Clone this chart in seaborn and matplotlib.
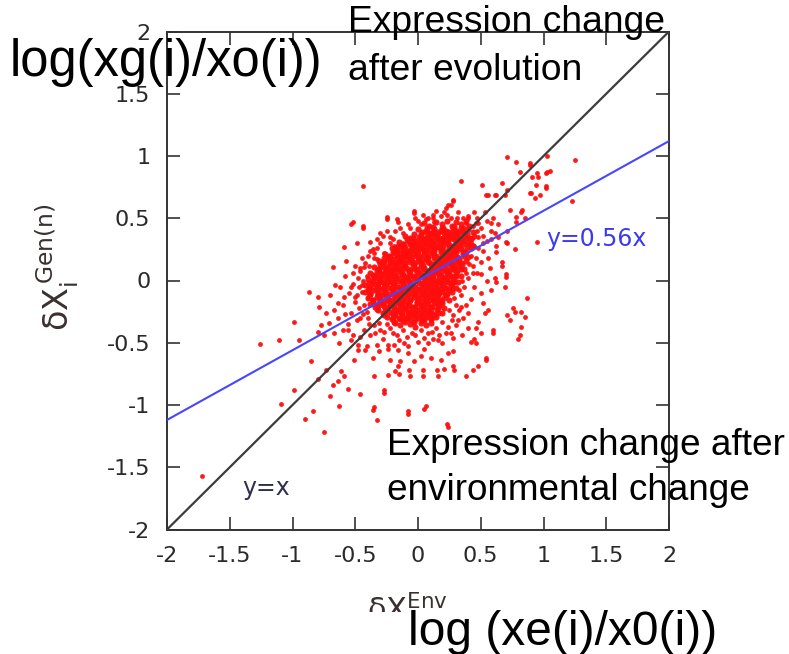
import matplotlib
matplotlib.use("Agg")
import matplotlib.pyplot as plt
from matplotlib.patches import Rectangle
import numpy as np
import pandas as pd
import seaborn as sns

# ---------------------------------------------------------------- data
# dense central cloud of genes (deltaX_env, deltaX_gen)
core_points = [
    (0.05, 0.46), (0.09, 0.44), (0.14, 0.47), (0.19, 0.45), (0.23, 0.48), (0.27, 0.44), (0.30, 0.47), (0.34, 0.45), (0.38, 0.48), (0.41, 0.44),
    (0.00, 0.41), (0.03, 0.39), (0.07, 0.42), (0.10, 0.38), (0.13, 0.41), (0.16, 0.39), (0.19, 0.42), (0.22, 0.40), (0.25, 0.38), (0.28, 0.41),
    (0.31, 0.39), (0.34, 0.42), (0.37, 0.38), (0.40, 0.41), (0.44, 0.39),
    (-0.10, 0.36), (-0.06, 0.34), (-0.03, 0.37), (0.01, 0.35), (0.04, 0.33), (0.07, 0.36), (0.10, 0.34), (0.13, 0.37), (0.16, 0.35), (0.19, 0.33),
    (0.22, 0.36), (0.25, 0.34), (0.28, 0.37), (0.31, 0.35), (0.34, 0.33), (0.37, 0.36), (0.41, 0.34), (0.45, 0.36),
    (-0.15, 0.31), (-0.12, 0.29), (-0.08, 0.32), (-0.05, 0.30), (-0.02, 0.28), (0.01, 0.31), (0.04, 0.29), (0.07, 0.32), (0.10, 0.30), (0.12, 0.28),
    (0.15, 0.31), (0.18, 0.29), (0.21, 0.32), (0.24, 0.30), (0.27, 0.28), (0.30, 0.31), (0.33, 0.29), (0.36, 0.32), (0.40, 0.30), (0.44, 0.28),
    (-0.21, 0.26), (-0.17, 0.24), (-0.14, 0.27), (-0.11, 0.25), (-0.08, 0.23), (-0.05, 0.26), (-0.02, 0.24), (0.01, 0.27), (0.04, 0.25), (0.07, 0.23),
    (0.10, 0.26), (0.13, 0.24), (0.16, 0.27), (0.19, 0.25), (0.22, 0.23), (0.25, 0.26), (0.28, 0.24), (0.31, 0.27), (0.34, 0.25), (0.38, 0.23), (0.42, 0.26),
    (-0.26, 0.21), (-0.22, 0.19), (-0.19, 0.22), (-0.16, 0.20), (-0.13, 0.18), (-0.10, 0.21), (-0.07, 0.19), (-0.04, 0.22), (-0.01, 0.20), (0.02, 0.18),
    (0.05, 0.21), (0.08, 0.19), (0.11, 0.22), (0.14, 0.20), (0.17, 0.18), (0.20, 0.21), (0.23, 0.19), (0.26, 0.22), (0.29, 0.20), (0.32, 0.18), (0.36, 0.21), (0.40, 0.19),
    (-0.31, 0.16), (-0.27, 0.14), (-0.24, 0.17), (-0.21, 0.15), (-0.18, 0.13), (-0.15, 0.16), (-0.12, 0.14), (-0.09, 0.17), (-0.06, 0.15), (-0.03, 0.13),
    (0.00, 0.16), (0.03, 0.14), (0.06, 0.17), (0.09, 0.15), (0.12, 0.13), (0.15, 0.16), (0.18, 0.14), (0.21, 0.17), (0.24, 0.15), (0.27, 0.13), (0.30, 0.16), (0.34, 0.14), (0.38, 0.16),
    (-0.35, 0.11), (-0.31, 0.09), (-0.28, 0.12), (-0.25, 0.10), (-0.22, 0.08), (-0.19, 0.11), (-0.16, 0.09), (-0.13, 0.12), (-0.10, 0.10), (-0.07, 0.08),
    (-0.04, 0.11), (-0.01, 0.09), (0.02, 0.12), (0.05, 0.10), (0.08, 0.08), (0.11, 0.11), (0.14, 0.09), (0.17, 0.12), (0.20, 0.10), (0.23, 0.08),
    (0.26, 0.11), (0.29, 0.09), (0.33, 0.11), (0.37, 0.09),
    (-0.38, 0.06), (-0.34, 0.04), (-0.31, 0.07), (-0.28, 0.05), (-0.25, 0.03), (-0.22, 0.06), (-0.19, 0.04), (-0.16, 0.07), (-0.13, 0.05), (-0.10, 0.03),
    (-0.07, 0.06), (-0.04, 0.04), (-0.01, 0.07), (0.02, 0.05), (0.05, 0.03), (0.08, 0.06), (0.11, 0.04), (0.14, 0.07), (0.17, 0.05), (0.20, 0.03),
    (0.23, 0.06), (0.26, 0.04), (0.30, 0.06), (0.34, 0.04),
    (-0.40, 0.01), (-0.36, -0.01), (-0.33, 0.02), (-0.30, 0.00), (-0.27, -0.02), (-0.24, 0.01), (-0.21, -0.01), (-0.18, 0.02), (-0.15, 0.00), (-0.12, -0.02),
    (-0.09, 0.01), (-0.06, -0.01), (-0.03, 0.02), (0.00, 0.00), (0.03, -0.02), (0.06, 0.01), (0.09, -0.01), (0.12, 0.02), (0.15, 0.00), (0.18, -0.02),
    (0.21, 0.01), (0.24, -0.01), (0.28, 0.01), (0.32, -0.01),
    (-0.42, -0.04), (-0.38, -0.06), (-0.35, -0.03), (-0.32, -0.05), (-0.29, -0.07), (-0.26, -0.04), (-0.23, -0.06), (-0.20, -0.03), (-0.17, -0.05), (-0.14, -0.07),
    (-0.11, -0.04), (-0.08, -0.06), (-0.05, -0.03), (-0.02, -0.05), (0.01, -0.07), (0.04, -0.04), (0.07, -0.06), (0.10, -0.03), (0.13, -0.05), (0.16, -0.07),
    (0.19, -0.04), (0.22, -0.06), (0.26, -0.04), (0.30, -0.06),
    (-0.42, -0.09), (-0.38, -0.11), (-0.35, -0.08), (-0.32, -0.10), (-0.29, -0.12), (-0.26, -0.09), (-0.23, -0.11), (-0.20, -0.08), (-0.17, -0.10), (-0.14, -0.12),
    (-0.11, -0.09), (-0.08, -0.11), (-0.05, -0.08), (-0.02, -0.10), (0.01, -0.12), (0.04, -0.09), (0.07, -0.11), (0.10, -0.08), (0.13, -0.10), (0.16, -0.12),
    (0.19, -0.09), (0.23, -0.11), (0.27, -0.09),
    (-0.40, -0.14), (-0.36, -0.16), (-0.33, -0.13), (-0.30, -0.15), (-0.27, -0.17), (-0.24, -0.14), (-0.21, -0.16), (-0.18, -0.13), (-0.15, -0.15), (-0.12, -0.17),
    (-0.09, -0.14), (-0.06, -0.16), (-0.03, -0.13), (0.00, -0.15), (0.03, -0.17), (0.06, -0.14), (0.09, -0.16), (0.12, -0.13), (0.15, -0.15), (0.18, -0.17),
    (0.21, -0.14), (0.25, -0.16),
    (-0.38, -0.19), (-0.34, -0.21), (-0.31, -0.18), (-0.28, -0.20), (-0.25, -0.22), (-0.22, -0.19), (-0.19, -0.21), (-0.16, -0.18), (-0.13, -0.20), (-0.10, -0.22),
    (-0.07, -0.19), (-0.04, -0.21), (-0.01, -0.18), (0.02, -0.20), (0.05, -0.22), (0.08, -0.19), (0.11, -0.21), (0.14, -0.18), (0.17, -0.20), (0.21, -0.22),
    (-0.32, -0.24), (-0.28, -0.26), (-0.25, -0.23), (-0.22, -0.25), (-0.19, -0.27), (-0.16, -0.24), (-0.13, -0.26), (-0.10, -0.23), (-0.07, -0.25), (-0.04, -0.27),
    (-0.01, -0.24), (0.02, -0.26), (0.05, -0.23), (0.08, -0.25), (0.11, -0.27), (0.15, -0.24), (0.19, -0.26),
    (-0.25, -0.29), (-0.21, -0.31), (-0.18, -0.28), (-0.15, -0.30), (-0.12, -0.32), (-0.09, -0.29), (-0.06, -0.31), (-0.03, -0.28), (0.00, -0.30), (0.03, -0.32),
    (0.06, -0.29), (0.10, -0.31), (0.14, -0.29),
    (-0.18, -0.34), (-0.14, -0.36), (-0.10, -0.33), (-0.06, -0.35), (-0.02, -0.37), (0.02, -0.34), (0.06, -0.36), (0.10, -0.34),
]

# second layer filling the gaps of the central cloud
core_fill_points = [
    (0.12, 0.43), (0.20, 0.42), (0.29, 0.43), (0.36, 0.42),
    (0.02, 0.37), (0.09, 0.38), (0.15, 0.375), (0.21, 0.38), (0.27, 0.37), (0.33, 0.38), (0.39, 0.37),
    (-0.09, 0.33), (-0.02, 0.32), (0.05, 0.33), (0.11, 0.32), (0.17, 0.33), (0.23, 0.32), (0.29, 0.33), (0.35, 0.32), (0.42, 0.33),
    (-0.16, 0.28), (-0.10, 0.27), (-0.04, 0.28), (0.02, 0.27), (0.08, 0.28), (0.14, 0.27), (0.20, 0.28), (0.26, 0.27), (0.32, 0.28), (0.39, 0.27),
    (-0.20, 0.23), (-0.14, 0.22), (-0.07, 0.23), (-0.01, 0.22), (0.05, 0.23), (0.12, 0.22), (0.18, 0.23), (0.24, 0.22), (0.30, 0.23), (0.37, 0.22),
    (-0.27, 0.18), (-0.20, 0.17), (-0.13, 0.18), (-0.06, 0.17), (0.00, 0.18), (0.07, 0.17), (0.13, 0.18), (0.19, 0.17), (0.26, 0.18), (0.33, 0.17),
    (-0.30, 0.13), (-0.23, 0.12), (-0.17, 0.13), (-0.10, 0.12), (-0.03, 0.13), (0.04, 0.12), (0.10, 0.13), (0.16, 0.12), (0.22, 0.13), (0.29, 0.12), (0.35, 0.13),
    (-0.33, 0.08), (-0.26, 0.07), (-0.20, 0.08), (-0.13, 0.07), (-0.06, 0.08), (0.00, 0.07), (0.07, 0.08), (0.13, 0.07), (0.19, 0.08), (0.25, 0.07), (0.31, 0.08),
    (-0.35, 0.03), (-0.29, 0.02), (-0.22, 0.03), (-0.15, 0.02), (-0.08, 0.03), (-0.02, 0.02), (0.04, 0.03), (0.10, 0.02), (0.17, 0.03), (0.23, 0.02), (0.29, 0.03),
    (-0.39, -0.02), (-0.32, -0.03), (-0.25, -0.02), (-0.19, -0.03), (-0.12, -0.02), (-0.05, -0.03), (0.01, -0.02), (0.08, -0.03), (0.14, -0.02), (0.20, -0.03), (0.27, -0.02),
    (-0.40, -0.08), (-0.33, -0.07), (-0.27, -0.08), (-0.20, -0.07), (-0.13, -0.08), (-0.06, -0.07), (0.00, -0.08), (0.06, -0.07), (0.12, -0.08), (0.19, -0.07), (0.25, -0.08),
    (-0.39, -0.13), (-0.32, -0.12), (-0.25, -0.13), (-0.18, -0.12), (-0.11, -0.13), (-0.04, -0.12), (0.03, -0.13), (0.09, -0.12), (0.15, -0.13), (0.22, -0.12),
    (-0.36, -0.18), (-0.29, -0.17), (-0.22, -0.18), (-0.15, -0.17), (-0.08, -0.18), (-0.01, -0.17), (0.06, -0.18), (0.13, -0.17), (0.19, -0.18),
    (-0.33, -0.23), (-0.26, -0.22), (-0.19, -0.23), (-0.12, -0.22), (-0.05, -0.23), (0.02, -0.22), (0.09, -0.23), (0.16, -0.22),
    (-0.27, -0.28), (-0.20, -0.27), (-0.13, -0.28), (-0.06, -0.27), (0.01, -0.28), (0.08, -0.27), (0.13, -0.28),
    (-0.19, -0.33), (-0.11, -0.32), (-0.03, -0.33), (0.05, -0.32),
]

# third layer, densest middle of the cloud
core_center_points = [
    (0.06, 0.395), (0.12, 0.39), (0.18, 0.395), (0.24, 0.39), (0.30, 0.395), (0.36, 0.39),
    (-0.04, 0.345), (0.02, 0.34), (0.08, 0.345), (0.14, 0.34), (0.20, 0.345), (0.26, 0.34), (0.32, 0.345), (0.38, 0.34),
    (-0.12, 0.295), (-0.06, 0.29), (0.00, 0.295), (0.06, 0.29), (0.12, 0.295), (0.18, 0.29), (0.24, 0.295), (0.30, 0.29), (0.36, 0.295), (0.42, 0.29),
    (-0.18, 0.245), (-0.12, 0.24), (-0.06, 0.245), (0.00, 0.24), (0.06, 0.245), (0.12, 0.24), (0.18, 0.245), (0.24, 0.24), (0.30, 0.245), (0.36, 0.24),
    (-0.23, 0.195), (-0.17, 0.19), (-0.11, 0.195), (-0.05, 0.19), (0.01, 0.195), (0.07, 0.19), (0.13, 0.195), (0.19, 0.19), (0.25, 0.195), (0.31, 0.19), (0.37, 0.195),
    (-0.28, 0.145), (-0.22, 0.14), (-0.16, 0.145), (-0.10, 0.14), (-0.04, 0.145), (0.02, 0.14), (0.08, 0.145), (0.14, 0.14), (0.20, 0.145), (0.26, 0.14), (0.32, 0.145),
    (-0.32, 0.095), (-0.26, 0.09), (-0.20, 0.095), (-0.14, 0.09), (-0.08, 0.095), (-0.02, 0.09), (0.04, 0.095), (0.10, 0.09), (0.16, 0.095), (0.22, 0.09), (0.28, 0.095), (0.34, 0.09),
    (-0.36, 0.045), (-0.30, 0.04), (-0.24, 0.045), (-0.18, 0.04), (-0.12, 0.045), (-0.06, 0.04), (0.00, 0.045), (0.06, 0.04), (0.12, 0.045), (0.18, 0.04), (0.24, 0.045), (0.30, 0.04),
    (-0.37, -0.005), (-0.31, -0.01), (-0.25, -0.005), (-0.19, -0.01), (-0.13, -0.005), (-0.07, -0.01), (-0.01, -0.005), (0.05, -0.01), (0.11, -0.005), (0.17, -0.01), (0.23, -0.005), (0.29, -0.01),
    (-0.39, -0.055), (-0.33, -0.06), (-0.27, -0.055), (-0.21, -0.06), (-0.15, -0.055), (-0.09, -0.06), (-0.03, -0.055), (0.03, -0.06), (0.09, -0.055), (0.15, -0.06), (0.21, -0.055), (0.27, -0.06),
    (-0.38, -0.105), (-0.32, -0.11), (-0.26, -0.105), (-0.20, -0.11), (-0.14, -0.105), (-0.08, -0.11), (-0.02, -0.105), (0.04, -0.11), (0.10, -0.105), (0.16, -0.11), (0.22, -0.105),
    (-0.36, -0.155), (-0.30, -0.16), (-0.24, -0.155), (-0.18, -0.16), (-0.12, -0.155), (-0.06, -0.16), (0.00, -0.155), (0.06, -0.16), (0.12, -0.155), (0.18, -0.16),
    (-0.32, -0.205), (-0.26, -0.21), (-0.20, -0.205), (-0.14, -0.21), (-0.08, -0.205), (-0.02, -0.21), (0.04, -0.205), (0.10, -0.21), (0.16, -0.205),
    (-0.26, -0.255), (-0.20, -0.26), (-0.14, -0.255), (-0.08, -0.26), (-0.02, -0.255), (0.04, -0.26), (0.10, -0.255), (0.16, -0.26),
    (-0.20, -0.305), (-0.14, -0.31), (-0.08, -0.305), (-0.02, -0.31), (0.04, -0.305), (0.10, -0.31),
]

# looser ring around the central cloud
halo_points = [
    (-0.40, 0.20), (-0.36, 0.25), (-0.30, 0.30), (-0.27, 0.22), (-0.22, 0.35), (-0.19, 0.28), (-0.33, 0.17), (-0.42, 0.14), (-0.46, 0.08),
    (-0.25, 0.40), (-0.14, 0.42), (-0.30, 0.38), (-0.38, 0.31), (-0.20, 0.33), (-0.12, 0.38),
    (-0.48, 0.02), (-0.52, -0.03), (-0.45, -0.09), (-0.50, -0.17), (-0.47, -0.22), (-0.55, -0.10), (-0.58, 0.04), (-0.44, -0.27), (-0.53, -0.26),
    (-0.49, -0.32), (-0.60, -0.20), (-0.46, 0.10), (-0.62, -0.05), (-0.56, -0.35),
    (-0.40, -0.30), (-0.35, -0.36), (-0.30, -0.40), (-0.25, -0.35), (-0.38, -0.44), (-0.28, -0.47), (-0.20, -0.42), (-0.12, -0.40), (-0.05, -0.42),
    (0.02, -0.40), (0.08, -0.42), (0.14, -0.38), (0.19, -0.33), (0.22, -0.42), (0.12, -0.47), (-0.15, -0.48), (-0.33, -0.52), (-0.42, -0.56),
    (-0.24, -0.55), (0.05, -0.55), (-0.08, -0.58), (0.28, -0.46), (0.30, -0.36), (-0.46, -0.45), (-0.36, -0.62),
    (0.30, -0.20), (0.34, -0.12), (0.37, -0.05), (0.40, 0.02), (0.28, -0.28), (0.36, -0.30), (0.42, -0.15), (0.45, -0.05), (0.47, 0.06),
    (0.33, -0.24), (0.50, -0.10), (0.55, 0.00), (0.52, -0.18), (0.40, -0.38), (0.58, -0.08), (0.44, 0.12),
    (0.42, 0.20), (0.45, 0.28), (0.48, 0.35), (0.50, 0.42), (0.47, 0.50), (0.52, 0.24), (0.55, 0.32), (0.58, 0.40), (0.62, 0.28), (0.50, 0.15),
    (0.56, 0.18), (0.60, 0.50), (0.44, 0.44), (0.40, 0.52), (0.53, 0.55), (0.64, 0.35), (0.57, 0.10), (0.36, 0.50),
    (0.00, 0.48), (0.08, 0.50), (0.18, 0.52), (0.26, 0.50), (0.32, 0.55), (-0.08, 0.45), (0.14, 0.56), (0.22, 0.58), (0.04, 0.53),
    (0.45, 0.55), (0.40, 0.50),
    (-0.45, 0.18), (-0.50, 0.12), (-0.38, 0.24), (-0.33, 0.33), (-0.28, 0.36), (-0.18, 0.40), (-0.06, 0.42), (0.02, 0.45), (-0.22, 0.30), (-0.35, 0.22),
    (-0.52, 0.06), (-0.44, 0.00), (-0.47, -0.05), (-0.49, -0.12), (-0.43, -0.20), (-0.46, -0.30), (-0.41, -0.25), (-0.39, -0.35), (-0.43, -0.40), (-0.34, -0.42),
    (-0.31, -0.34), (-0.27, -0.41), (-0.22, -0.38), (-0.17, -0.44), (-0.09, -0.45), (-0.02, -0.44), (0.05, -0.46), (0.11, -0.41), (0.17, -0.44), (0.24, -0.37),
    (0.27, -0.32), (0.25, -0.24), (0.29, -0.14), (0.33, -0.08), (0.35, 0.00), (0.38, 0.06), (0.41, 0.13), (0.44, 0.06), (0.46, 0.18), (0.48, 0.26),
    (0.47, 0.40), (0.43, 0.34), (0.46, 0.46), (0.38, 0.46), (0.31, 0.50), (0.23, 0.53), (0.12, 0.53), (-0.02, 0.50), (0.52, 0.30), (0.50, 0.05),
    (-0.58, -0.27), (-0.60, -0.40), (-0.52, -0.44), (-0.48, -0.52), (-0.31, -0.57), (-0.19, -0.52), (-0.11, -0.50), (0.19, -0.50), (0.35, -0.44), (0.38, -0.20),
]

# isolated genes far from the cloud
outlier_points = [
    (-1.72, -1.57), (-1.26, -0.51), (-1.11, -0.48), (-0.99, -0.33), (-0.95, -0.48), (-0.99, -0.88), (-1.09, -0.99), (-0.90, -1.11), (-0.84, -1.05),
    (-0.75, -1.22), (-0.87, -0.09), (-0.80, -0.13), (-0.68, 0.11), (-0.59, 0.27), (-0.52, 0.47), (-0.44, 0.76), (-0.44, 0.44), (-0.49, 0.30),
    (-0.35, -1.02), (-0.33, -1.12), (-0.08, -1.05), (0.06, -1.01), (0.23, -1.15), (-0.46, -0.91), (-0.27, -0.88), (-0.16, -0.69), (-0.07, -0.72),
    (0.04, -0.72), (0.15, -0.72), (0.28, -0.69), (0.38, -0.77), (0.54, -0.62), (0.45, -0.47), (0.60, -0.40), (0.81, -0.44), (0.87, -0.14),
    (0.71, -0.28), (0.76, -0.22), (0.82, -0.25), (0.70, 0.05), (0.61, 0.02), (0.67, 0.15), (0.70, 0.31), (0.78, 0.47), (0.83, 0.57), (0.89, 0.70),
    (0.97, 0.69), (1.02, 0.76), (1.03, 0.87), (0.95, 0.86), (0.89, 0.94), (0.81, 0.87), (0.71, 0.99), (0.78, 0.95), (1.03, 1.00), (1.25, 0.97),
    (1.23, 0.64), (0.95, 0.31), (0.67, 0.78), (0.51, 0.77), (0.54, 0.69), (0.61, 0.69), (0.34, 0.80), (0.28, 0.65), (0.24, 0.61), (-0.03, 0.56),
    (-0.17, 0.49), (-0.25, 0.51), (0.12, 0.50), (0.48, 0.46), (0.61, 0.38), (0.58, 0.46), (0.71, 0.40),
    (-0.80, -0.79), (-0.85, -0.65), (-0.73, -0.72), (-0.70, -0.93), (-0.63, -1.01), (-0.56, -0.87), (-0.36, -1.04), (-0.64, -0.81), (-0.80, -0.41),
    (-0.77, -0.36), (-0.75, -0.44), (-0.71, -0.34), (-0.67, -0.42), (-0.63, -0.50), (-0.64, -0.30), (-0.61, -0.73), (-0.59, -0.77), (-0.68, -0.84),
    (-0.51, -0.64), (-0.48, -0.56), (-0.41, -0.53), (-0.35, -0.77), (-0.53, -0.48), (-0.56, -0.40), (-0.79, -0.21), (-0.73, -0.26), (-0.67, -0.24),
    (-0.53, 0.45), (-0.44, 0.42), (-0.57, 0.16), (-0.66, -0.04), (-0.70, -0.12), (-0.45, -0.04), (-0.43, 0.11), (-0.39, 0.12), (-0.35, 0.18),
    (-0.33, 0.26), (-0.53, -0.05), (-0.59, -0.13), (-0.64, -0.18), (-0.50, -0.13), (-0.41, 0.04), (-0.31, 0.08),
    (0.89, 0.93), (0.91, 0.83), (0.96, 0.83), (1.02, 0.86), (1.05, 0.88), (0.94, 0.77), (1.02, 0.74), (0.90, 0.70), (0.93, 0.66), (0.71, 0.73),
    (0.56, 0.69), (0.62, 0.69), (0.69, 0.69), (0.28, 0.64), (0.26, 0.61), (0.21, 0.55), (-0.03, 0.54), (-0.25, 0.49), (-0.16, 0.47), (0.06, 0.49),
    (0.13, 0.47), (0.73, 0.57), (0.82, 0.55), (0.78, 0.51), (0.85, 0.50), (0.71, 0.30), (0.77, 0.25), (0.67, 0.12), (0.70, 0.03),
    (0.52, 0.36), (0.58, 0.33), (0.64, 0.45), (0.55, 0.48), (0.62, 0.23),
    (0.77, -0.25), (0.73, -0.32), (0.85, -0.29), (0.82, -0.37), (0.80, -0.47), (0.60, -0.42), (0.54, -0.64), (0.48, -0.69), (0.44, -0.72),
    (0.29, -0.72), (0.21, -0.71), (0.16, -0.77), (0.04, -0.77), (-0.06, -0.77), (-0.15, -0.75), (-0.18, -0.73), (-0.24, -0.76), (-0.27, -0.90),
    (-0.08, -1.07), (0.05, -1.03), (0.24, -1.18), (0.62, -0.01), (0.69, -0.05),
    (0.42, -0.49), (0.46, -0.50), (0.50, -0.42), (0.48, -0.33), (0.46, -0.38), (0.56, -0.24), (0.53, -0.26), (0.24, -0.58), (0.28, -0.57),
    (0.18, -0.64), (0.10, -0.62), (0.02, -0.61), (-0.03, -0.65), (-0.14, -0.65), (-0.22, -0.64), (0.32, -0.32), (0.40, -0.26), (0.34, -0.21),
    (0.26, -0.42), (0.16, -0.48), (0.08, -0.50), (0.00, -0.49), (-0.08, -0.53), (-0.16, -0.56), (-0.24, -0.52),
]

# reference lines: identity and fitted slope
axis_range = [-2.0, 2.0]
identity_slope = 1.0
fit_slope = 0.56

tick_values = [-2, -1.5, -1, -0.5, 0, 0.5, 1, 1.5, 2]
tick_labels = ["-2", "-1.5", "-1", "-0.5", "0", "0.5", "1", "1.5", "2"]

# ---------------------------------------------------------------- style
sns.set_style("ticks")
plt.rcParams["font.family"] = ["DejaVu Sans"]
plt.rcParams["mathtext.fontset"] = "dejavusans"

W, H = 789, 654
fig = plt.figure(figsize=(W / 100, H / 100), dpi=100)
fig.patch.set_facecolor("white")


def fx(px):
    return px / W


def fy(py):
    return 1 - py / H


ax_left, ax_right, ax_top, ax_bottom = 167, 669, 31.5, 529.5
ax = fig.add_axes([fx(ax_left), fy(ax_bottom), (ax_right - ax_left) / W, (ax_bottom - ax_top) / H])
ax.set_facecolor("white")

dense_df = pd.DataFrame(core_points + core_fill_points + core_center_points, columns=["env", "gen"])
sparse_df = pd.DataFrame(halo_points + outlier_points, columns=["env", "gen"])
# overlapping dots of the crowded middle merge into a solid patch
sns.scatterplot(data=dense_df, x="env", y="gen", color="#ff0d0d", s=20, linewidth=0,
                alpha=0.95, ax=ax, legend=False, zorder=2)
sns.scatterplot(data=sparse_df, x="env", y="gen", color="#ff0d0d", s=12, linewidth=0,
                alpha=0.95, ax=ax, legend=False, zorder=2)

line_x = np.array(axis_range)
sns.lineplot(x=line_x, y=identity_slope * line_x, color="#3c3c3c", linewidth=1.6, ax=ax, zorder=3)
sns.lineplot(x=line_x, y=fit_slope * line_x, color="#4646ff", linewidth=1.5, ax=ax, zorder=3)

ax.set_xlim(axis_range)
ax.set_ylim(axis_range)
ax.set_xticks(tick_values)
ax.set_xticklabels(tick_labels)
ax.set_yticks(tick_values)
ax.set_yticklabels(tick_labels)
ax.tick_params(direction="in", length=9.5, width=1.2, top=True, right=True,
               color="#333333", labelcolor="#2a2a2a", labelsize=16, pad=12)
for sp in ax.spines.values():
    sp.set_linewidth(1.4)
    sp.set_color("#333333")
ax.set_xlabel("")
ax.set_ylabel("")

# axis captions
fig.text(fx(57), fy(267), r"δ$\mathrm{X}_{\mathrm{i}}^{\,\mathrm{Gen(n)}}$", fontsize=24,
         color="#3a3030", rotation=90, ha="center", va="center")
fig.text(fx(407), fy(594), r"δ$\mathrm{X}^{\mathrm{Env}}$", fontsize=22, color="#3a3030",
         ha="center", va="top")
# white band clipping the lower caption
fig.add_artist(Rectangle((0, 0), 1, fy(612), transform=fig.transFigure,
                         facecolor="white", edgecolor="none", zorder=5))

ax.text(1.02, fit_slope * 0.6, "y=0.56x", color="#3a3af0", fontsize=17, va="center", ha="left", zorder=4)
ax.text(-1.40, -1.67, "y=x", color="#2f2f4a", fontsize=17, va="center", ha="left", zorder=4)

# annotations
big = dict(family=["Liberation Sans", "DejaVu Sans"], color="black", zorder=6, va="baseline")
fig.text(fx(10), fy(76), "log(xg(i)/xo(i))", fontsize=36.5, **big)
fig.text(fx(348), fy(32), "Expression change", fontsize=26.8, **big)
fig.text(fx(348), fy(80), "after evolution", fontsize=26.8, **big)
fig.text(fx(387), fy(455), "Expression change after", fontsize=26.6, **big)
fig.text(fx(387), fy(500), "environmental change", fontsize=26.6, **big)
fig.text(fx(408), fy(645), "log (xe(i)/x0(i))", fontsize=34.5, **big)

fig.savefig("out.png", dpi=100, facecolor="white")
